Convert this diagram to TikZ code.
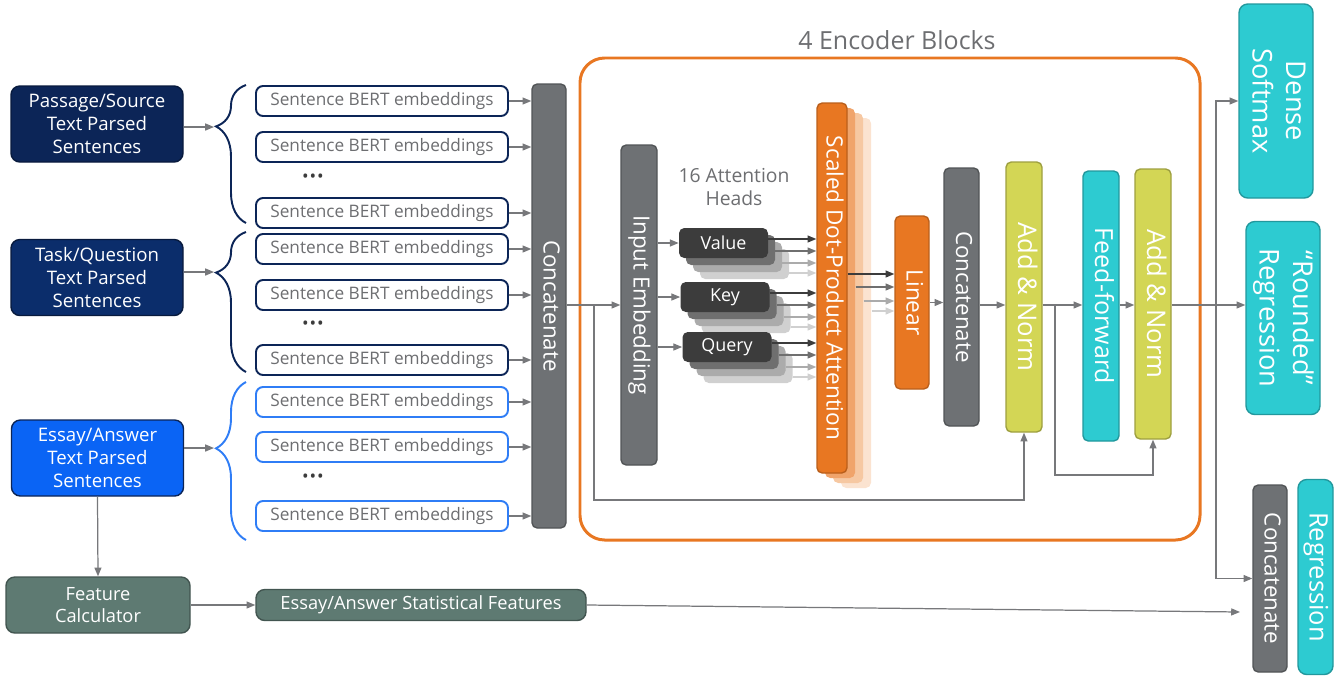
\documentclass[tikz,border=0pt]{standalone}
\usepackage{fontspec}
\usepackage{graphicx}
\setmainfont{Open Sans}
\usetikzlibrary{arrows.meta,decorations.pathreplacing,calc}

\definecolor{navyA}{HTML}{0C2557}
\definecolor{navyB}{HTML}{0B2D6B}
\definecolor{essayblue}{HTML}{0A64F5}
\definecolor{lineblue}{HTML}{2F7DF6}
\definecolor{featgreen}{HTML}{5E7A72}
\definecolor{bargray}{HTML}{6E7174}
\definecolor{headA}{HTML}{3C3C3C}
\definecolor{headB}{HTML}{6F6F6F}
\definecolor{headC}{HTML}{ABABAB}
\definecolor{headD}{HTML}{D0D0D0}
\definecolor{encorange}{HTML}{E87722}
\definecolor{orangeB}{HTML}{F0A46B}
\definecolor{orangeC}{HTML}{F6C8A2}
\definecolor{orangeD}{HTML}{FBE3D0}
\definecolor{normgreen}{HTML}{D3D655}
\definecolor{ffteal}{HTML}{2DCBD1}
\definecolor{textgray}{HTML}{6D6E71}
\definecolor{arrowgray}{HTML}{77787B}

\def\px{0.02cm}
\newcommand{\vtext}[1]{\rotatebox{-90}{\begin{tabular}{@{}c@{}}#1\end{tabular}}}

\begin{document}
\begin{tikzpicture}[x=0.02cm, y=-0.02cm, >={Triangle[length=5pt,width=4pt]}]
	\tikzstyle{arr}=[->, draw=arrowgray, line width=0.7pt]
	\tikzstyle{source box}=[rectangle, rounded corners=5pt, draw=navyA!70!black, line width=0.8pt, text=white, align=center, inner sep=0pt, minimum width=172*\px, minimum height=76*\px, font=\fontsize{10.6}{13.2}\selectfont]
	\tikzstyle{embed box}=[rectangle, rounded corners=4pt, draw=navyA, line width=1.1pt, fill=white, text=textgray, inner sep=0pt, minimum width=252*\px, minimum height=30*\px, font=\fontsize{9.8}{12}\selectfont]
	\tikzstyle{feature box}=[rectangle, rounded corners=5pt, fill=featgreen, draw=featgreen!70!black, line width=0.8pt, text=white, align=center, inner sep=0pt, font=\fontsize{10.4}{13}\selectfont]
	\tikzstyle{layer}=[rectangle, rounded corners=3pt, line width=0.8pt, text=white, inner sep=0pt]
	\tikzstyle{gray layer}=[layer, fill=bargray, draw=bargray!75!black, font=\fontsize{12.7}{15}\selectfont]
	\tikzstyle{orange layer}=[layer, fill=encorange, draw=encorange!80!black]
	\tikzstyle{norm layer}=[layer, fill=normgreen, draw=normgreen!75!black, font=\fontsize{14.6}{17}\selectfont]
	\tikzstyle{teal layer}=[layer, rounded corners=5pt, fill=ffteal, draw=ffteal!75!black, font=\fontsize{15.5}{19}\selectfont]
	\tikzstyle{head box}=[rectangle, rounded corners=3pt, inner sep=0pt, minimum width=89*\px, minimum height=30*\px]
	\tikzstyle{annot}=[text=textgray, align=center]

	\useasboundingbox (0,0) rectangle (1343,677);

	% Draw the source text nodes
	\node[source box, fill=navyA] (S-1) at (97,124) {Passage/Source\\Text Parsed\\Sentences};
	\node[source box, fill=navyB] (S-2) at (97,277.5) {Task/Question\\Text Parsed\\Sentences};
	\node[source box, fill=essayblue, draw=navyA] (S-3) at (97.5,458) {Essay/Answer\\Text Parsed\\Sentences};

	% Draw the sentence embedding nodes
	\foreach \name / \y in {1/101, 2/147, 3/213, 4/249, 5/295, 6/360}
	\node[embed box] (E-\name) at (382,\y) {Sentence BERT embeddings};
	\foreach \name / \y in {7/402, 8/447, 9/516}
	\node[embed box, draw=lineblue] (E-\name) at (382,\y) {Sentence BERT embeddings};
	\foreach \name / \y in {1/178, 2/325, 3/478}
	\node[text=headA, font=\fontsize{10}{10}\selectfont] (D-\name) at (313,\y) {\textbullet\kern0.5pt\textbullet\kern0.5pt\textbullet};

	% Braces, the source boxes point at their tips
	\foreach \top / \bot / \asp / \col in {85/223/0.30/navyA, 232/372/0.29/navyA, 382/540/0.42/lineblue}
	\draw[\col, line width=1.1pt, decorate, decoration={brace, mirror, amplitude=0.6cm, aspect=\asp}] (246,\top) -- (246,\bot);
	\coordinate (B-1) at (214,127);
	\coordinate (B-2) at (214,272);
	\coordinate (B-3) at (214,448);
	\foreach \s in {1,2,3}
	\draw[arr] (S-\s.east |- B-\s) -- (B-\s);

	% Concatenate the embeddings
	\node[gray layer, minimum width=34*\px, minimum height=444*\px] (C-1) at (549,306) {\vtext{Concatenate}};
	\foreach \i in {1,...,9}
	\draw[arr] (E-\i.east) -- (E-\i.east -| C-1.west);

	% The encoder block frame
	\node[draw=encorange, line width=1.7pt, rounded corners=14pt, minimum width=620*\px, minimum height=482*\px] (enc) at (890,299) {};
	\node[annot, font=\fontsize{14.2}{16}\selectfont] (enc-title) at (897,40) {4 Encoder Blocks};
	\coordinate (flow) at (0,305);

	\node[gray layer, minimum width=36*\px, minimum height=320*\px] (IE) at (639,305) {\vtext{Input Embedding}};
	\draw[arr] (C-1.east |- flow) -- (IE.west |- flow);

	% Draw the attention heads
	\node[annot, font=\fontsize{11}{13.5}\selectfont] (heads) at (734,187) {16 Attention\\Heads};
	\foreach \name / \txt / \x / \y in {V/Value/723.5/243, K/Key/725/297, Q/Query/727/347} {
		\foreach \i / \col in {4/headD, 3/headC, 2/headB}
		\node[head box, fill=\col] (\name-\i) at (\x+7*\i-7, \y+7*\i-7) {};
		\node[head box, fill=headA, text=white, font=\fontsize{10.2}{12}\selectfont] (\name-1) at (\x,\y) {\txt};
		\draw[arr] (IE.east |- \name-1.west) -- (\name-1.west);
	}

	\foreach \i / \col in {4/orangeD, 3/orangeC, 2/orangeB}
	\node[layer, fill=\col, minimum width=30*\px, minimum height=370*\px] (SDPA-\i) at (832+8*\i-8, 288+5*\i-5) {};
	\node[orange layer, minimum width=30*\px, minimum height=370*\px, font=\fontsize{12.8}{15}\selectfont] (SDPA-1) at (832,288) {\vtext{Scaled Dot-Product Attention}};

	% Every head feeds the attention
	\foreach \name in {V,K,Q}
	\foreach \i / \dy / \col in {1/-4/headA, 2/1/headB, 3/6/headC, 4/9/headD} {
		\path ($(\name-\i.east)+(0,\dy)$) coordinate (p);
		\draw[->, draw=\col, line width=0.7pt] (p) -- (p -| SDPA-1.west);
	}

	\node[orange layer, minimum width=34*\px, minimum height=173*\px, font=\fontsize{12.9}{15}\selectfont] (LIN) at (912,302.5) {\vtext{Linear}};
	\foreach \i / \dy / \col in {1/-14/headA, 2/-6/headB, 3/3/headC, 4/8/headD} {
		\path ($(SDPA-\i.east)+(0,\dy)$) coordinate (p);
		\draw[->, draw=\col, line width=0.7pt] (p) -- (p -| LIN.west);
	}

	% Concatenate, add & norm, feed-forward
	\node[gray layer, minimum width=35*\px, minimum height=258*\px] (C-2) at (961.5,297) {\vtext{Concatenate}};
	\node[norm layer, minimum width=36*\px, minimum height=270*\px] (AN-1) at (1024,297) {\vtext{Add \& Norm}};
	\node[teal layer, rounded corners=3pt, minimum width=36*\px, minimum height=270*\px, font=\fontsize{14.2}{17}\selectfont] (FF) at (1101,306) {\vtext{Feed-forward}};
	\node[norm layer, minimum width=36*\px, minimum height=270*\px] (AN-2) at (1153,304) {\vtext{Add \& Norm}};
	\draw[arr] (LIN.east) -- (LIN.east -| C-2.west);
	\draw[arr] (C-2.east |- flow) -- (AN-1.west |- flow);
	\draw[arr] (AN-1.east |- flow) -- (FF.west |- flow);
	\draw[arr] (FF.east |- flow) -- (AN-2.west |- flow);

	% Residual connections
	\coordinate (res-1) at (594,305);
	\coordinate (res-2) at (1055,305);
	\draw[arr] (res-1) -- ++(0,195) -| (AN-1.south);
	\draw[arr] (res-2) -- ++(0,170) -| (AN-2.south);

	% Output heads
	\node[teal layer, minimum width=74*\px, minimum height=194*\px] (DS) at (1276,101) {\vtext{Dense\\Softmax}};
	\node[teal layer, minimum width=74*\px, minimum height=193*\px] (RR) at (1283,318) {\vtext{“Rounded”\\Regression}};
	\node[gray layer, minimum width=34*\px, minimum height=187*\px] (C-3) at (1270,578.5) {\vtext{Concatenate}};
	\node[teal layer, minimum width=35*\px, minimum height=195*\px, font=\fontsize{14.5}{17}\selectfont] (RG) at (1315.5,577) {\vtext{Regression}};
	\coordinate (split) at (1216,305);
	\draw[arr] (AN-2.east |- flow) -- (RR.west |- flow);
	\draw[arr] (split) |- (DS.west);
	\draw[arr] (split) |- (C-3.west);

	% Statistical features of the essay
	\node[feature box, minimum width=184*\px, minimum height=56*\px] (F) at (98,605) {Feature\\Calculator};
	\node[feature box, minimum width=330*\px, minimum height=31*\px] (ST) at (421,605) {Essay/Answer Statistical Features};
	\coordinate (c3in) at (1240,612);
	\draw[arr] (S-3.south) -- (F.north);
	\draw[arr] (F.east) -- (ST.west);
	\draw[arr] (ST.east) -- (c3in);
\end{tikzpicture}
\end{document}
